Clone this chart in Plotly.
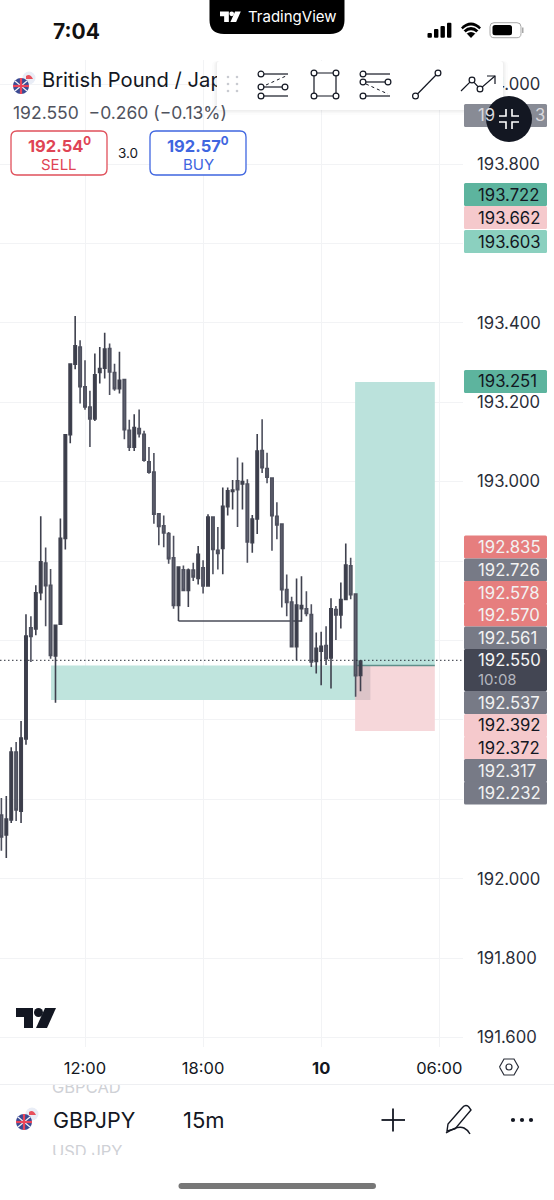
import plotly.graph_objects as go

# ---------- data ----------
bars = list(range(-17, 57))
opens = [192.160,192.110,192.148,192.319,192.170,192.352,192.632,192.629,192.720,192.795,192.739,192.561,192.641,192.857,193.118,193.296,193.339,193.239,193.188,193.158,193.275,193.286,193.335,193.275,193.234,193.257,193.129,193.087,193.134,193.119,193.050,193.024,192.919,192.889,192.869,192.808,192.688,192.778,192.726,192.777,192.756,192.783,192.737,192.911,192.827,192.832,192.937,192.975,193.002,192.994,192.994,192.846,192.906,193.078,193.033,193.009,192.913,192.893,192.728,192.697,192.584,192.680,192.680,192.665,192.547,192.573,192.587,192.556,192.678,192.664,192.703,192.788,192.717,192.512]
highs = [192.203,192.208,192.331,192.344,192.397,192.666,192.661,192.739,192.913,192.834,192.780,192.640,192.907,193.118,193.296,193.417,193.356,193.306,193.229,193.323,193.339,193.375,193.348,193.297,193.327,193.257,193.156,193.170,193.182,193.128,193.087,193.072,192.919,192.915,192.873,192.864,192.787,192.789,192.781,192.796,192.838,192.802,192.918,192.913,192.886,192.985,192.985,193.004,193.061,193.048,193.006,192.916,193.120,193.157,193.073,193.011,192.948,192.893,192.766,192.710,192.756,192.762,192.724,192.691,192.620,192.622,192.636,192.706,192.687,192.746,192.844,192.808,192.717,192.548]
lows = [192.070,192.052,192.140,192.145,192.140,192.337,192.546,192.613,192.701,192.636,192.554,192.443,192.641,192.829,193.097,193.283,193.197,193.181,193.087,193.153,193.247,193.260,193.218,193.229,193.222,193.107,193.077,193.077,193.111,193.050,193.020,192.894,192.840,192.835,192.793,192.680,192.649,192.725,192.684,192.750,192.741,192.718,192.737,192.767,192.779,192.767,192.915,192.930,192.886,192.930,192.796,192.821,192.868,193.022,192.996,192.826,192.855,192.683,192.661,192.584,192.550,192.647,192.661,192.533,192.517,192.487,192.538,192.479,192.601,192.630,192.703,192.704,192.458,192.472]
closes = [192.105,192.150,192.319,192.173,192.354,192.611,192.610,192.720,192.798,192.738,192.562,192.638,192.857,193.118,193.296,193.342,193.239,193.188,193.158,193.269,193.285,193.334,193.276,193.234,193.255,193.131,193.087,193.136,193.121,193.054,193.024,192.918,192.887,192.871,192.806,192.688,192.785,192.726,192.777,192.760,192.817,192.737,192.911,192.829,192.819,192.938,192.977,192.979,192.980,193.000,192.848,192.906,193.077,193.035,193.011,192.914,192.891,192.728,192.696,192.584,192.689,192.688,192.668,192.546,192.580,192.585,192.554,192.680,192.664,192.703,192.790,192.715,192.511,192.548]

time_ticks = [0, 24, 48, 72]
time_labels = ["12:00", "18:00", "<b>10</b>", "06:00"]
price_ticks = [191.6, 191.8, 192.0, 192.2, 192.4, 192.6, 192.8, 193.0, 193.2, 193.4, 193.6, 193.8, 194.0]
# labels hidden behind the stacked badges in the reference are left blank
price_labels = ["191.600", "191.800", "192.000", "", "", "", "", "193.000", "193.200", "193.400", "", "193.800", "194.000"]

current_price = 192.55
zone = dict(x0=-6.9, x1=55.1, top=192.537, bottom=192.450)
position = dict(x0=54.9, x1=71.1, target=193.251, entry=192.537, stop=192.372)
level_line = dict(x0=19, x1=44, price=192.649)

# ---------- layout geometry ----------
W, H = 554, 1200
PW, PT, PB = 463, 60, 1047
FONT = "Inter"

def fx(x): return x / W
def fy(y): return (H - y) / H

shapes, notes = [], []

def rect(x0, y0, x1, y1, fill, line=None, lw=0):
    shapes.append(dict(type="rect", xref="paper", yref="paper", x0=fx(x0), x1=fx(x1), y0=fy(y0), y1=fy(y1),
                       fillcolor=fill, line=dict(color=line or fill, width=lw), layer="above"))

def circle(cx, cy, r, fill="rgba(0,0,0,0)", line=None, lw=0):
    shapes.append(dict(type="circle", xref="paper", yref="paper", x0=fx(cx-r), x1=fx(cx+r), y0=fy(cy-r), y1=fy(cy+r),
                       fillcolor=fill, line=dict(color=line or fill, width=lw), layer="above"))

def svg(cmds, fill="rgba(0,0,0,0)", line="rgba(0,0,0,0)", lw=0, dash=None):
    s = ""
    for c in cmds:
        if c[0] == "Z":
            s += "Z "
        else:
            pts = c[1:]
            s += c[0] + " ".join(f"{fx(pts[i]):.5f},{fy(pts[i+1]):.5f}" for i in range(0, len(pts), 2)) + " "
    ln = dict(color=line, width=lw)
    if dash: ln["dash"] = dash
    shapes.append(dict(type="path", xref="paper", yref="paper", path=s, fillcolor=fill, line=ln, layer="above"))

def poly(pts, **kw):
    svg([("M",) + pts[0]] + [("L",) + p for p in pts[1:]], **kw)

def rrect(x0, y0, x1, y1, r, **kw):
    svg([("M", x0+r, y0), ("L", x1-r, y0), ("Q", x1, y0, x1, y0+r), ("L", x1, y1-r), ("Q", x1, y1, x1-r, y1),
         ("L", x0+r, y1), ("Q", x0, y1, x0, y1-r), ("L", x0, y0+r), ("Q", x0, y0, x0+r, y0), ("Z",)], **kw)

def text(x, y, s, size, color="#131722", anchor="left", font=FONT):
    notes.append(dict(xref="paper", yref="paper", x=fx(x), y=fy(y), text=s, showarrow=False, xanchor=anchor,
                      yanchor="middle", borderpad=0, font=dict(family=font, size=size, color=color)))

def tv_logo(x, y, s, color):
    poly([(x, y), (x+17*s, y), (x+17*s, y+20*s), (x+8*s, y+20*s), (x+8*s, y+9*s), (x, y+9*s)], fill=color)
    circle(x+22.5*s, y+4.5*s, 4.5*s, fill=color)
    poly([(x+29*s, y), (x+40*s, y), (x+31*s, y+20*s), (x+20*s, y+20*s)], fill=color)

def flag(cx, cy):
    circle(cx+8, cy-8, 6.5, fill="#e9edf6")
    svg([("M", cx+5, cy-10), ("Q", cx+9, cy-13, cx+12, cy-7), ("L", cx+5, cy-7), ("Z",)], fill="#e8505b")
    circle(cx, cy, 8, fill="#3a4a94")
    poly([(cx-6, cy-5), (cx+6, cy+5)], line="#f3f3f6", lw=1.2)
    poly([(cx+6, cy-5), (cx-6, cy+5)], line="#f3f3f6", lw=1.2)
    poly([(cx-8, cy), (cx+8, cy)], line="#e9455a", lw=2.2)
    poly([(cx, cy-8), (cx, cy+8)], line="#e9455a", lw=2.2)

# ---------- figure ----------
fig = go.Figure(go.Candlestick(
    x=bars, open=opens, high=highs, low=lows, close=closes, whiskerwidth=0,
    increasing=dict(line=dict(color="#3f414e", width=1.6), fillcolor="#393b48"),
    decreasing=dict(line=dict(color="#4e505e", width=1.6), fillcolor="#636573"),
    hoverinfo="skip", showlegend=False,
))

# texts that sit under the toolbar or are cut by the panels: pixel-scaled overlay axes
clipped = [(42, 82, "British Pound / Japanese Yen", 20.2, "#131722"),
           (52, 1089, "GBPCAD", 16.5, "#cfd1d6"),
           (52, 1153, "USD JPY", 16.5, "#cfd1d6")]
for cx_, cy_, s_, size_, col_ in clipped:
    fig.add_trace(go.Scatter(x=[cx_], y=[cy_], text=[s_], mode="text", textposition="middle right", xaxis="x2", yaxis="y2",
                             cliponaxis=False, hoverinfo="skip", showlegend=False,
                             textfont=dict(family=FONT, size=size_, color=col_)))

# drawings tied to the chart's scales
below = [
    dict(x0=zone["x0"], x1=zone["x1"], y0=zone["bottom"], y1=zone["top"], fillcolor="#bfe4dd"),
    dict(x0=position["x0"], x1=position["x1"], y0=position["entry"], y1=position["target"], fillcolor="#bbe2dc"),
    dict(x0=position["x0"], x1=position["x1"], y0=position["stop"], y1=position["entry"], fillcolor="#f6d7da"),
    dict(x0=position["x0"], x1=58, y0=zone["bottom"], y1=position["entry"], fillcolor="rgba(120,120,130,0.2)"),
]
scale_shapes = [dict(type="rect", xref="x", yref="y", layer="between", line=dict(width=0), **b) for b in below]
scale_shapes += [
    dict(type="line", xref="x", yref="y", x0=position["x0"], x1=position["x1"], y0=position["entry"], y1=position["entry"],
         line=dict(color="#5f8f8a", width=1.6), layer="between"),
    dict(type="line", xref="x", yref="y", x0=level_line["x0"], x1=level_line["x1"], y0=level_line["price"], y1=level_line["price"],
         line=dict(color="#4a4c59", width=1.6), layer="between"),
    dict(type="line", xref="x domain", yref="y", x0=0, x1=1, y0=current_price, y1=current_price,
         line=dict(color="#2a2e39", width=1, dash="1.5px,2.5px"), layer="above"),
]

# status bar
text(76, 31, "<b>7:04</b>", 21, "#111111", "center")
svg([("M", 209.5, 0), ("L", 344.5, 0), ("L", 344.5, 20), ("Q", 344.5, 34, 330, 34), ("L", 224, 34), ("Q", 209.5, 34, 209.5, 20), ("Z",)], fill="#000000")
tv_logo(220, 11.5, 0.52, "#ffffff")
text(247, 17, "TradingView", 15, "#ffffff")
for bx, top in zip([427.5, 434, 440.5, 447], [33, 29, 26, 22.7]):
    rrect(bx, top, bx+4.4, 37.7, 1, fill="#000000")
svg([("M", 461, 27.5), ("Q", 471, 17.5, 481, 27.5), ("L", 471, 38), ("Z",)], fill="#000000")
svg([("M", 463, 30), ("Q", 471, 22.5, 479, 30)], line="#ffffff", lw=1.6)
svg([("M", 466, 33.2), ("Q", 471, 29, 476, 33.2)], line="#ffffff", lw=1.6)
rrect(490, 22.7, 521, 37.7, 4, line="#a8a8a8", lw=1)
rrect(492.5, 25, 512, 35.3, 2.5, fill="#000000")
rect(522, 27.5, 523.5, 33, "#a8a8a8")

# price badges (stacked on the scale)
BX0, BX1 = 464, 547
badges = [("193.722", 183, "#5db49e", "#131722"), ("193.662", 206, "#f5c9cc", "#131722"), ("193.603", 230, "#8bd0bf", "#131722"),
          ("193.251", 370, "#5db49e", "#131722"), ("192.835", 535.5, "#e67e7e", "#f2f2f2"), ("192.726", 558.5, "#777a86", "#f2f2f2"),
          ("192.578", 581, "#e67e7e", "#f2f2f2"), ("192.570", 603.5, "#e67e7e", "#f2f2f2"), ("192.561", 626.5, "#777a86", "#f2f2f2"),
          ("192.537", 691, "#777a86", "#f2f2f2"), ("192.392", 714, "#f5c9cc", "#131722"), ("192.372", 736.5, "#f5c9cc", "#131722"),
          ("192.317", 759, "#777a86", "#f2f2f2"), ("192.232", 781.5, "#777a86", "#f2f2f2")]
for label, top, col, tc in badges:
    rrect(BX0, top, BX1, top+23, 1.5, fill=col)
    text(476.5, top+11.5, label, 16.7, tc)
rrect(BX0, 649, BX1, 691, 1.5, fill="#434653")
text(476.5, 660, "192.550", 16.7, "#f5f5f5")
text(477, 679, "10:08", 15, "#b4b6bf")

# toolbar
for off, col in [(5, "rgba(0,0,0,0.012)"), (3, "rgba(0,0,0,0.02)"), (1.5, "rgba(0,0,0,0.03)")]:
    rrect(217-off, 61, 503+off, 110+off, 4, fill=col)
rrect(217, 61, 503, 110, 3, fill="#ffffff")
for dx in (228, 237):
    for dy in (77, 84, 91):
        circle(dx, dy, 1.3, fill="#c9cbd1")
IC = "#131722"
def ring(x, y): circle(x, y, 2.9, fill="#ffffff", line=IC, lw=1.2)
def seg(a, b, lw=1.2, dash=None): poly([a, b], line=IC, lw=lw, dash=dash)
seg((264, 74), (288, 74)); seg((264, 96), (288, 96)); seg((264, 87), (282, 87))
seg((266, 85), (286, 76), lw=1, dash="dot")
ring(261, 74); ring(261, 87); ring(285, 87); ring(261, 96)
rect(314, 73, 336, 96, "rgba(0,0,0,0)", IC, 1.2)
for px_, py_ in [(314, 73), (336, 73), (314, 96), (336, 96)]:
    ring(px_, py_)
seg((366, 74), (390, 74)); seg((366, 82), (385, 82)); seg((366, 96), (390, 96))
seg((366, 84), (388, 94), lw=1, dash="dot")
ring(363, 74); ring(363, 82); ring(388, 82); ring(363, 96)
seg((415.5, 96), (438, 73)); ring(415.5, 96); ring(438, 73)
poly([(461, 91), (472, 80), (480, 89), (495, 76)], line=IC, lw=1.2)
poly([(487, 76), (495, 76), (495, 84)], line=IC, lw=1.2)
ring(472, 80); ring(480, 89)

# top scale badge and collapse button
rrect(BX0, 104, BX1, 127, 1.5, fill="#888b95")
circle(509, 119, 23, fill="#131722")
for sx in (-1, 1):
    for sy in (-1, 1):
        poly([(509+sx*3, 119+sy*10), (509+sx*3, 119+sy*3), (509+sx*10, 119+sy*3)], line="#ffffff", lw=1.6)
text(476.5, 115.5, "19", 16.7, "#d9d9de")
text(534, 115.5, "3", 16.7, "#d9d9de")

# legend header
flag(21, 86)
text(12, 112, "192.550  \u22120.260 (\u22120.13%)", 17.5, "#50535e")
rrect(11, 131, 107, 175, 6, fill="#ffffff", line="#e0505b", lw=1.3)
rrect(150, 131, 246, 175, 6, fill="#ffffff", line="#3f66e0", lw=1.3)
text(59, 145, "<b>192.54<sup>0</sup></b>", 16.5, "#df4455", "center")
text(59, 164, "SELL", 15, "#df4455", "center")
text(198, 145, "<b>192.57<sup>0</sup></b>", 16.5, "#3f66e0", "center")
text(198, 164, "BUY", 15, "#3f66e0", "center")
text(128, 153, "3.0", 13.5, "#131722", "center")

# watermark logo
tv_logo(16, 1008, 1.0, "#131722")

# bottom bars
rect(40, 1076, 160, 1084, "#ffffff")
rect(0, 1084, W, 1085, "#eeeff2")
poly([(499.5, 1067), (504, 1059), (514, 1059), (518.5, 1067), (514, 1075), (504, 1075), (499.5, 1067)], line="#2a2e39", lw=1.2)
circle(509, 1067, 3, line="#2a2e39", lw=1.2)
rect(40, 1155, 160, 1172, "#ffffff")
flag(24, 1122)
text(52, 1120, "GBPJPY", 21.5, "#131722")
text(182, 1120, "15m", 22, "#131722")
poly([(381.5, 1120), (405, 1120)], line="#131722", lw=1.8)
poly([(393, 1108.5), (393, 1131.5)], line="#131722", lw=1.8)
svg([("M", 462, 1108), ("Q", 465, 1104, 468.5, 1106.5), ("L", 471, 1110), ("L", 455, 1129), ("L", 447, 1131), ("L", 448, 1124), ("Z",)], line="#131722", lw=1.4)
svg([("M", 446, 1133), ("Q", 458, 1125, 464, 1128), ("Q", 468, 1130, 470, 1134)], line="#131722", lw=1.4)
for dx in (513, 522, 531):
    circle(dx, 1120, 2.1, fill="#131722")
rrect(178.5, 1183, 376, 1189, 3, fill="#777777")

GRID = "#f2f3f5"
fig.update_layout(
    width=W, height=H, autosize=False, margin=dict(l=0, r=0, t=0, b=0),
    paper_bgcolor="#ffffff", plot_bgcolor="rgba(0,0,0,0)", dragmode=False, hovermode=False, showlegend=False,
    font=dict(family=FONT, color="#131722"),
    shapes=scale_shapes + shapes, annotations=notes,
    xaxis=dict(domain=[0, PW/W], range=[-17.28, 76.83], tickvals=time_ticks, ticktext=time_labels, rangeslider=dict(visible=False),
               showgrid=True, gridcolor=GRID, gridwidth=1, zeroline=False, showline=False, ticks="",
               ticklabelstandoff=9, tickfont=dict(family=FONT, size=16.5, color="#131722")),
    yaxis=dict(domain=[(H-PB)/H, (H-PT)/H], range=[191.576, 194.062], side="right", tickvals=price_ticks, ticktext=price_labels,
               showgrid=True, gridcolor=GRID, gridwidth=1, zeroline=False, showline=False, ticks="",
               ticklabelstandoff=13, tickfont=dict(family=FONT, size=16.7, color="#2a2e39")),
    xaxis2=dict(domain=[0, 1], range=[0, W], visible=False, fixedrange=True, anchor="y2"),
    yaxis2=dict(domain=[0, 1], range=[H, 0], visible=False, fixedrange=True, anchor="x2"),
)

fig.write_html("out.html", config=dict(displayModeBar=False),
               post_script="document.body.style.margin='0';document.body.style.overflow='hidden';")
